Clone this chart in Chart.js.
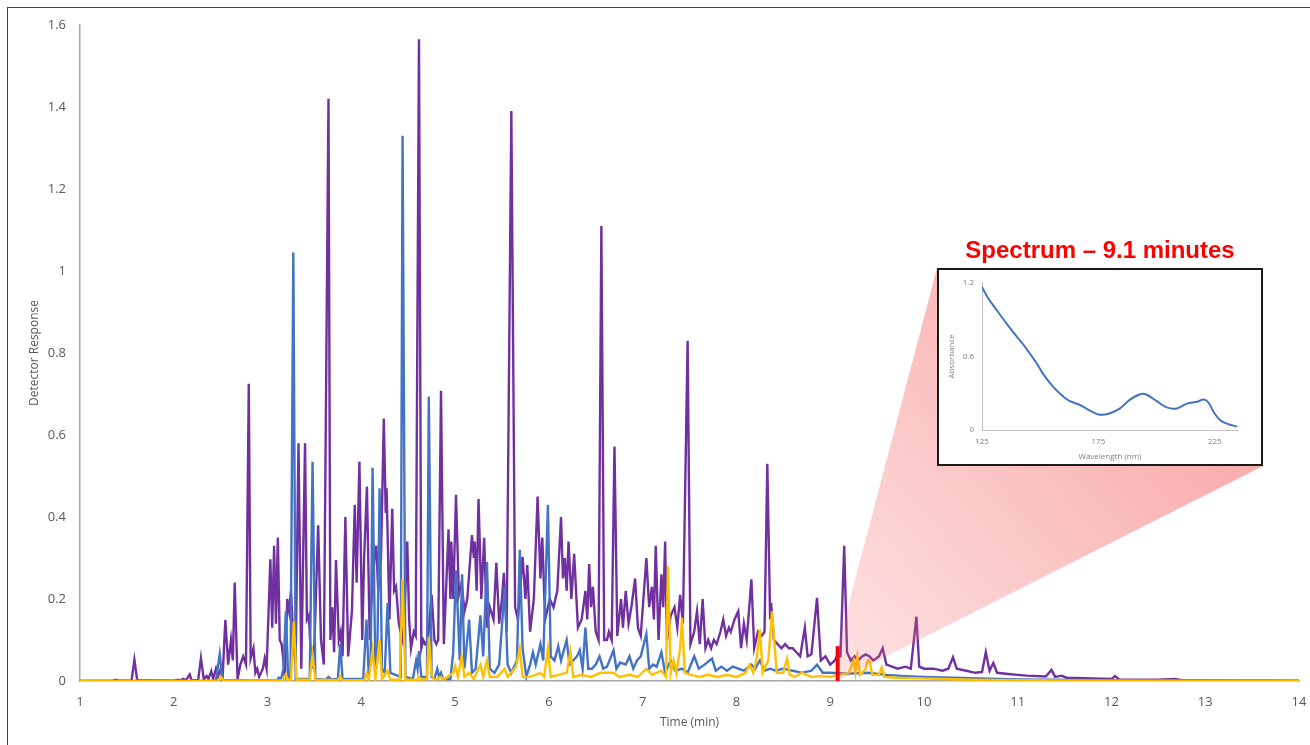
<!DOCTYPE html>
<html>
<head>
<meta charset="utf-8">
<script src="https://cdn.jsdelivr.net/npm/chart.js@4.4.1/dist/chart.umd.min.js"></script>
<style>
  body { margin: 0; background: #fff; overflow: hidden; }
  #wrap { position: relative; width: 1310px; height: 745px; }
  #frame { position: absolute; left: 7px; top: 7px; width: 1310px; height: 745px; border: 1px solid #444; }
  #main { position: absolute; left: 0; top: 0; }
  #insetBox { position: absolute; left: 937px; top: 268px; width: 326px; height: 198px;
              border: 2px solid #1a1a1a; box-sizing: border-box; background: #fff; }
  #inset { position: absolute; left: 0; top: 0; }
</style>
</head>
<body>
<div id="wrap">
  <div id="frame"></div>
  <canvas id="main" width="1310" height="745"></canvas>
  <div id="insetBox"><canvas id="inset" width="322" height="194"></canvas></div>
</div>
<script>
// chromatogram, time in minutes
const purpleT = [1.00,1.35,1.38,1.41,1.55,1.58,1.61,2.00,2.05,2.07,2.10,2.13,2.17,2.19,2.26,2.29,2.32,2.35,2.37,2.40,2.42,2.45,2.47,2.50,2.52,2.55,2.58,2.61,2.63,2.65,2.68,2.71,2.74,2.77,2.80,2.82,2.85,2.87,2.89,2.91,2.95,2.97,2.99,3.03,3.05,3.07,3.09,3.11,3.13,3.15,3.17,3.185,3.21,3.23,3.25,3.28,3.30,3.33,3.36,3.40,3.42,3.44,3.47,3.50,3.54,3.57,3.60,3.65,3.67,3.69,3.71,3.73,3.76,3.78,3.80,3.83,3.86,3.90,3.93,3.95,3.98,4.01,4.03,4.06,4.09,4.11,4.14,4.16,4.18,4.21,4.24,4.26,4.27,4.30,4.33,4.35,4.37,4.40,4.42,4.44,4.46,4.49,4.51,4.53,4.56,4.58,4.615,4.64,4.66,4.68,4.71,4.75,4.78,4.80,4.82,4.85,4.88,4.90,4.93,4.95,4.96,4.98,5.01,5.04,5.07,5.10,5.13,5.18,5.20,5.21,5.23,5.25,5.28,5.31,5.34,5.37,5.41,5.44,5.47,5.50,5.52,5.55,5.60,5.64,5.67,5.72,5.75,5.77,5.80,5.84,5.88,5.91,5.93,5.96,6.01,6.05,6.09,6.13,6.15,6.17,6.19,6.21,6.24,6.27,6.31,6.35,6.39,6.41,6.43,6.45,6.47,6.50,6.53,6.56,6.59,6.62,6.64,6.67,6.70,6.73,6.77,6.79,6.82,6.85,6.88,6.92,6.95,6.98,7.04,7.07,7.10,7.12,7.14,7.17,7.20,7.22,7.24,7.26,7.30,7.34,7.37,7.40,7.43,7.48,7.51,7.55,7.58,7.61,7.64,7.67,7.70,7.73,7.76,7.79,7.83,7.86,7.89,7.92,7.94,7.98,8.02,8.05,8.08,8.11,8.16,8.19,8.23,8.27,8.30,8.33,8.36,8.37,8.40,8.44,8.48,8.52,8.56,8.60,8.64,8.68,8.73,8.76,8.80,8.86,8.90,8.95,9.00,9.05,9.07,9.11,9.15,9.18,9.22,9.26,9.30,9.34,9.38,9.42,9.46,9.52,9.56,9.60,9.66,9.72,9.80,9.86,9.92,9.95,10.0,10.1,10.2,10.26,10.31,10.35,10.45,10.55,10.62,10.66,10.70,10.74,10.78,10.9,11.0,11.1,11.3,11.36,11.40,11.47,11.52,11.8,12.0,12.04,12.08,12.5,12.68,12.75,13.0,14.0];
const purpleY = [0,0.001,0.003,0.001,0.001,0.052,0.002,0.001,0.003,0.001,0.005,0.002,0.016,0.002,0.002,0.056,0.004,0.012,0.005,0.024,0.005,0.03,0.01,0.03,0.006,0.149,0.04,0.1,0.05,0.24,0.004,0.04,0.06,0.04,0.725,0.055,0.08,0.02,0.03,0.01,0.03,0.055,0.03,0.297,0.13,0.33,0.14,0.35,0.1,0.09,0.05,0.004,0.2,0.17,0.22,0.08,0.04,0.58,0.03,0.58,0.15,0.16,0.03,0.09,0.38,0.1,0.04,1.42,0.1,0.18,0.07,0.295,0.1,0.12,0.06,0.4,0.06,0.17,0.43,0.24,0.535,0.1,0.3,0.474,0.1,0.2,0.3,0.33,0.22,0.3,0.64,0.41,0.47,0.15,0.42,0.22,0.23,0.14,0.12,0.1,0.16,0.34,0.15,0.08,0.12,0.11,1.565,0.08,0.1,0.09,0.1,0.21,0.1,0.09,0.1,0.708,0.09,0.2,0.37,0.2,0.34,0.2,0.454,0.21,0.24,0.17,0.2,0.356,0.3,0.34,0.22,0.444,0.2,0.349,0.13,0.18,0.15,0.288,0.14,0.2,0.264,0.12,1.39,0.18,0.15,0.303,0.2,0.283,0.12,0.2,0.45,0.25,0.35,0.15,0.2,0.18,0.22,0.40,0.25,0.30,0.22,0.34,0.2,0.31,0.13,0.15,0.22,0.15,0.285,0.18,0.23,0.12,0.1,1.11,0.1,0.1,0.12,0.1,0.572,0.11,0.20,0.13,0.22,0.14,0.18,0.25,0.13,0.11,0.30,0.18,0.23,0.15,0.33,0.10,0.26,0.18,0.34,0.10,0.16,0.18,0.13,0.21,0.14,0.83,0.09,0.12,0.17,0.09,0.20,0.08,0.10,0.08,0.10,0.09,0.12,0.15,0.11,0.13,0.12,0.15,0.17,0.08,0.14,0.1,0.248,0.08,0.12,0.11,0.12,0.53,0.15,0.19,0.1,0.09,0.08,0.09,0.08,0.08,0.07,0.06,0.13,0.06,0.065,0.203,0.05,0.06,0.04,0.05,0.06,0.06,0.33,0.07,0.05,0.06,0.05,0.06,0.065,0.06,0.05,0.06,0.08,0.04,0.035,0.03,0.035,0.03,0.157,0.035,0.03,0.03,0.025,0.03,0.058,0.03,0.025,0.02,0.022,0.07,0.025,0.044,0.02,0.017,0.015,0.013,0.011,0.027,0.01,0.013,0.008,0.006,0.005,0.012,0.004,0.003,0.005,0.002,0.001,0];

const blueT = [1.0,2.45,2.49,2.52,3.10,3.12,3.14,3.17,3.195,3.22,3.245,3.275,3.30,3.45,3.48,3.51,3.62,3.65,3.68,3.75,3.775,3.80,4.02,4.055,4.08,4.10,4.12,4.15,4.17,4.195,4.22,4.25,4.28,4.31,4.42,4.44,4.47,4.55,4.585,4.60,4.615,4.64,4.70,4.72,4.75,4.78,4.81,4.83,4.85,4.87,4.95,4.98,5.01,5.05,5.075,5.10,5.15,5.18,5.22,5.27,5.30,5.34,5.37,5.42,5.47,5.53,5.56,5.60,5.66,5.69,5.72,5.76,5.80,5.83,5.86,5.91,5.94,5.99,6.02,6.06,6.10,6.13,6.19,6.22,6.26,6.30,6.33,6.36,6.39,6.42,6.46,6.50,6.54,6.58,6.62,6.69,6.72,6.76,6.82,6.86,6.90,6.94,6.98,7.04,7.07,7.11,7.15,7.20,7.24,7.30,7.35,7.42,7.48,7.55,7.60,7.66,7.74,7.78,7.84,7.90,7.96,8.02,8.08,8.16,8.20,8.25,8.30,8.36,8.42,8.50,8.60,8.70,8.80,8.86,8.92,9.00,9.20,9.40,9.60,9.80,10.0,10.5,11.0,12.0,14.0];
const blueY = [0,0.001,0.066,0.002,0.002,0.008,0.002,0.03,0.17,0.01,0.005,1.045,0.005,0.005,0.535,0.005,0.003,0.01,0.004,0.005,0.09,0.005,0.005,0.15,0.01,0.05,0.52,0.02,0.05,0.47,0.03,0.02,0.19,0.02,0.01,1.33,0.01,0.005,0.05,0.03,0.073,0.01,0.01,0.693,0.01,0.005,0.03,0.01,0.02,0.005,0.005,0.07,0.27,0.05,0.26,0.03,0.15,0.02,0.03,0.16,0.06,0.29,0.03,0.02,0.04,0.23,0.04,0.02,0.05,0.32,0.08,0.01,0.04,0.07,0.04,0.09,0.05,0.43,0.06,0.05,0.085,0.05,0.10,0.04,0.05,0.06,0.075,0.03,0.13,0.03,0.03,0.04,0.06,0.03,0.035,0.075,0.03,0.045,0.04,0.06,0.03,0.05,0.06,0.115,0.03,0.04,0.035,0.07,0.02,0.05,0.025,0.03,0.02,0.06,0.03,0.04,0.055,0.025,0.035,0.025,0.035,0.03,0.025,0.04,0.03,0.05,0.025,0.03,0.025,0.03,0.025,0.02,0.025,0.04,0.02,0.02,0.018,0.02,0.015,0.012,0.01,0.007,0.004,0.002,0.001];

const yellowT = [1.0,2.47,2.50,2.53,3.17,3.195,3.22,3.25,3.28,3.31,3.45,3.48,3.51,3.75,3.775,3.80,4.03,4.055,4.08,4.12,4.15,4.195,4.22,4.28,4.31,4.41,4.44,4.47,4.60,4.615,4.64,4.70,4.72,4.75,4.78,4.85,4.88,4.98,5.0,5.03,5.07,5.10,5.15,5.20,5.27,5.30,5.34,5.37,5.45,5.53,5.56,5.65,5.69,5.72,5.80,5.91,5.95,5.99,6.02,6.10,6.19,6.23,6.26,6.35,6.45,6.55,6.69,6.75,6.86,6.95,7.04,7.10,7.20,7.25,7.27,7.30,7.33,7.36,7.40,7.42,7.45,7.52,7.60,7.70,7.80,7.90,8.00,8.10,8.14,8.18,8.22,8.25,8.28,8.34,8.38,8.40,8.43,8.50,8.54,8.57,8.62,8.70,8.80,8.90,9.00,9.10,9.20,9.25,9.27,9.29,9.32,9.38,9.40,9.42,9.45,9.52,9.55,9.58,9.70,9.90,10.2,10.5,11.0,12.0,14.0];
const yellowY = [0,0.001,0.01,0.001,0.002,0.016,0.002,0.003,0.145,0.003,0.003,0.065,0.003,0.002,0.012,0.002,0.002,0.018,0.003,0.075,0.005,0.10,0.005,0.025,0.003,0.003,0.25,0.003,0.003,0.01,0.003,0.005,0.108,0.015,0.003,0.01,0.003,0.02,0.037,0.01,0.06,0.01,0.02,0.005,0.04,0.01,0.05,0.01,0.01,0.03,0.01,0.035,0.08,0.01,0.01,0.02,0.01,0.08,0.01,0.015,0.02,0.072,0.01,0.015,0.01,0.02,0.02,0.01,0.015,0.01,0.03,0.015,0.025,0.01,0.28,0.02,0.05,0.02,0.08,0.155,0.02,0.015,0.01,0.015,0.01,0.015,0.01,0.02,0.04,0.02,0.06,0.126,0.02,0.05,0.17,0.11,0.02,0.02,0.055,0.015,0.01,0.02,0.01,0.012,0.01,0.015,0.02,0.05,0.02,0.06,0.015,0.03,0.05,0.05,0.015,0.015,0.033,0.01,0.008,0.007,0.005,0.003,0.002,0.001,0];

const xTicks = [1,2,3,4,5,6,7,8,9,10,11,12,13,14];
const yTicks = [0,0.2,0.4,0.6,0.8,1,1.2,1.4,1.6];
const yTickLabels = ['0','0.2','0.4','0.6','0.8','1','1.2','1.4','1.6'];

// spectrum taken at the marked time
const markerTime = 9.08;
const markerHeight = 0.085;
const spectrumTitle = 'Spectrum \u2013 9.1 minutes';
const waveNm = [125,127.6,131.2,135.5,139.8,144.1,148.4,151.3,155.6,159.9,162.8,167.1,171.4,175.7,180,184.3,188.6,193,195.8,200.1,204.4,208.7,213.1,217.4,220.3,222.4,224.6,227.4,231,234.6];
const absorb = [1.166,1.076,0.98,0.869,0.765,0.662,0.546,0.455,0.352,0.274,0.235,0.204,0.158,0.124,0.137,0.176,0.248,0.292,0.287,0.235,0.184,0.176,0.215,0.23,0.248,0.222,0.145,0.08,0.047,0.028];
const waveTicks = [125,175,225];
const absTicks = [0,0.6,1.2];

const toPts = (xs, ys) => xs.map((x, i) => ({ x: x, y: ys[i] }));
const gray = '#595959';
const font = 'Open Sans';

// pink zoom wedge (drawn over the traces, see-through), red marker, title
const overlay = {
  id: 'overlay',
  afterDatasetsDraw(chart) {
    const { ctx, scales: { x, y } } = chart;
    const mx = x.getPixelForValue(markerTime);
    const top = y.getPixelForValue(markerHeight), bot = y.getPixelForValue(0);
    const box = document.getElementById('insetBox');
    const L = box.offsetLeft, T = box.offsetTop, R = L + box.offsetWidth, B = T + box.offsetHeight;
    const g = ctx.createLinearGradient(mx, bot, (L + R) / 2 + 60, (T + B) / 2 + 20);
    g.addColorStop(0, 'rgba(245,100,100,0.18)');
    g.addColorStop(1, 'rgba(245,100,100,0.52)');
    ctx.save();
    ctx.fillStyle = g;
    ctx.beginPath();
    ctx.moveTo(mx, top);
    ctx.lineTo(L, T);
    ctx.lineTo(R, B);
    ctx.lineTo(mx, bot);
    ctx.closePath();
    ctx.fill();

    ctx.fillStyle = '#ff0000';
    ctx.fillRect(mx - 2, top, 4, bot - top);
    ctx.font = 'bold 24px "Liberation Sans", Arial, sans-serif';
    ctx.textAlign = 'center';
    ctx.textBaseline = 'alphabetic';
    ctx.fillText(spectrumTitle, 1100, 258);
    ctx.restore();
  }
};

new Chart(document.getElementById('main'), {
  type: 'line',
  data: {
    datasets: [
      { data: toPts(yellowT, yellowY), borderColor: '#ffc000', borderWidth: 2.4 },
      { data: toPts(blueT, blueY), borderColor: '#4472c4', borderWidth: 2.4 },
      { data: toPts(purpleT, purpleY), borderColor: '#7030a0', borderWidth: 2.4 }
    ]
  },
  options: {
    responsive: false,
    animation: false,
    devicePixelRatio: 1,
    layout: { padding: { top: 25, right: 0, left: 0, bottom: 0 } },
    elements: { point: { radius: 0 }, line: { tension: 0 } },
    plugins: { legend: { display: false }, tooltip: { enabled: false } },
    scales: {
      x: {
        type: 'linear', min: 1, max: 14,
        afterBuildTicks: s => { s.ticks = xTicks.map(v => ({ value: v })); },
        afterFit: s => { s.height = 64; s.paddingLeft = 0; s.paddingRight = 11; },
        grid: { display: false, drawTicks: false },
        border: { display: true, color: '#a6a6a6', width: 1.5 },
        ticks: { color: gray, font: { family: font, size: 13 }, padding: 13, maxRotation: 0 },
        title: { display: true, text: 'Time (min)', color: gray, font: { family: font, size: 12 }, padding: { top: 0, bottom: 15 } }
      },
      y: {
        min: 0, max: 1.6,
        afterBuildTicks: s => { s.ticks = yTicks.map(v => ({ value: v })); },
        afterFit: s => { s.width = 80; },
        grid: { display: false, drawTicks: false },
        border: { display: true, color: '#a6a6a6', width: 1.5 },
        ticks: { color: gray, font: { family: font, size: 13 }, padding: 14,
                 callback: (v) => yTickLabels[yTicks.indexOf(v)] },
        title: { display: true, text: 'Detector Response', color: gray, font: { family: font, size: 12 }, padding: { top: 27, bottom: 0 } }
      }
    }
  },
  plugins: [overlay]
});

new Chart(document.getElementById('inset'), {
  type: 'line',
  data: { datasets: [{ data: toPts(waveNm, absorb), borderColor: '#4472c4', borderWidth: 2, tension: 0.3 }] },
  options: {
    responsive: false,
    animation: false,
    devicePixelRatio: 1,
    layout: { padding: { top: 6, right: 23, left: 0, bottom: 0 } },
    elements: { point: { radius: 0 } },
    plugins: { legend: { display: false }, tooltip: { enabled: false } },
    scales: {
      x: {
        type: 'linear', min: 125, max: 235,
        afterBuildTicks: s => { s.ticks = waveTicks.map(v => ({ value: v })); },
        afterFit: s => { s.height = 34; },
        grid: { display: false, drawTicks: false },
        border: { display: true, color: '#bfbfbf', width: 1 },
        ticks: { color: '#7f7f7f', font: { family: font, size: 8 }, padding: 7, maxRotation: 0 },
        title: { display: true, text: 'Wavelength (nm)', color: '#7f7f7f', font: { family: font, size: 8 }, padding: { top: 0, bottom: 2 } }
      },
      y: {
        min: 0, max: 1.2,
        afterBuildTicks: s => { s.ticks = absTicks.map(v => ({ value: v })); },
        afterFit: s => { s.width = 43; },
        grid: { display: false, drawTicks: false },
        border: { display: true, color: '#bfbfbf', width: 1 },
        ticks: { color: '#7f7f7f', font: { family: font, size: 8 }, padding: 8 },
        title: { display: true, text: 'Absorbance', color: '#7f7f7f', font: { family: font, size: 8 }, padding: { top: 8, bottom: 0 } }
      }
    }
  }
});
</script>
</body>
</html>
